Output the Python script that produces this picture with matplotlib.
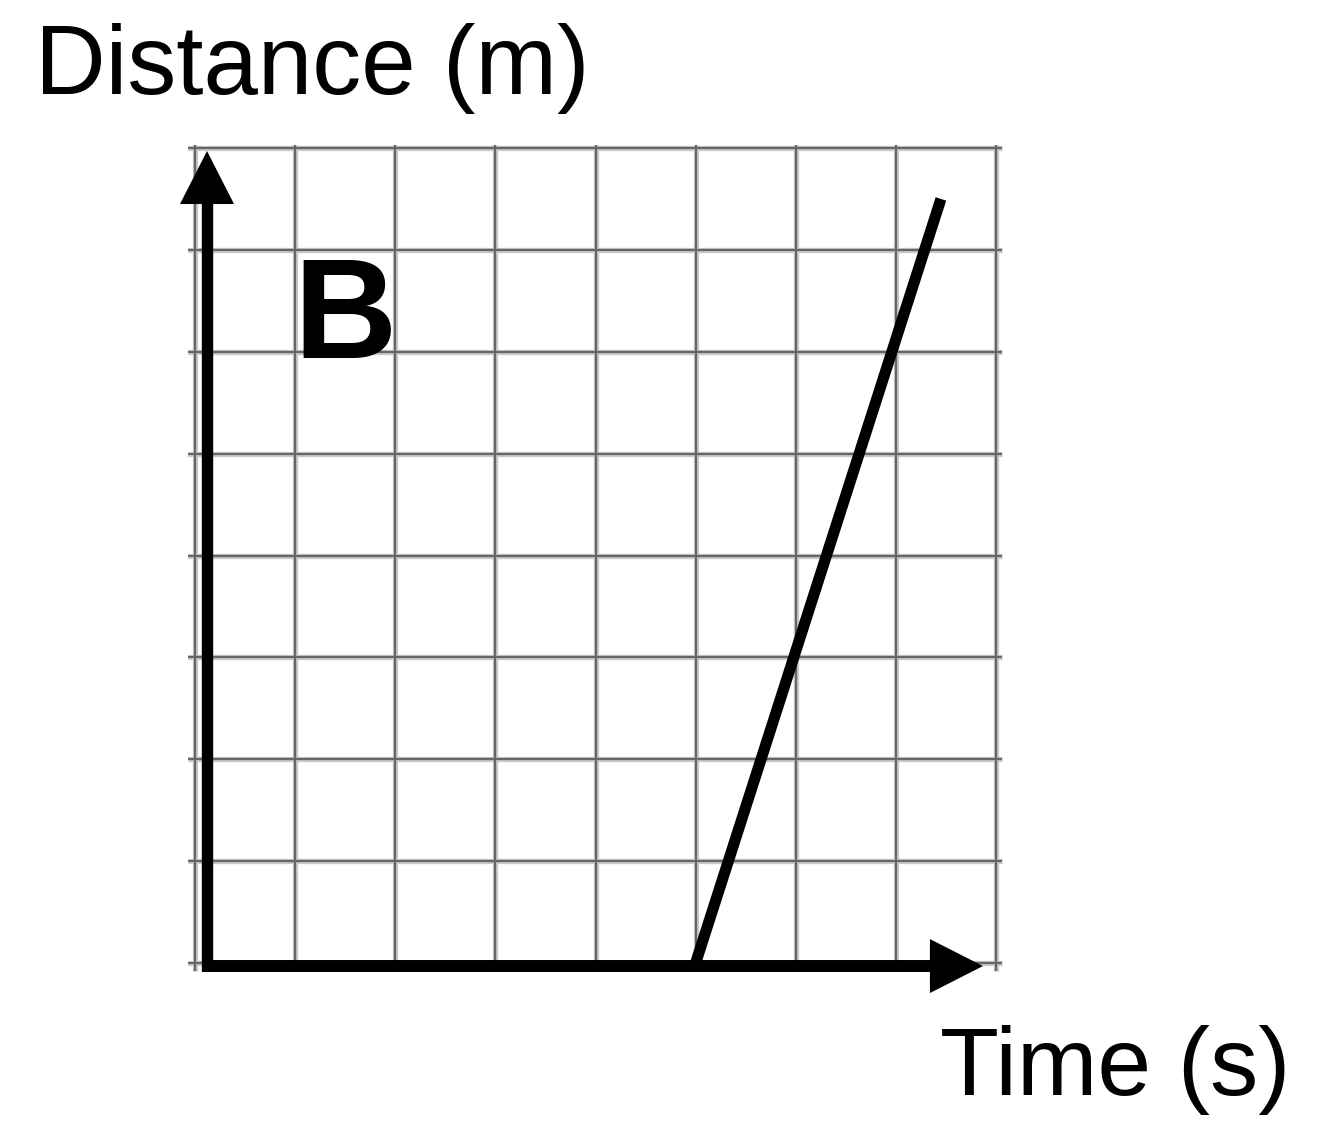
import matplotlib
matplotlib.use("Agg")
import matplotlib.pyplot as plt
from matplotlib.patches import Polygon

# Data
grid_x = [0, 1, 2, 3, 4, 5, 6, 7, 8]
grid_y = [0, 1, 2, 3, 4, 5, 6, 7, 8]
line_t = [5.0, 7.45]
line_d = [0.0, 7.5]
y_label = "Distance (m)"
x_label = "Time (s)"
panel_label = "B"

W, H = 1318, 1122
fig = plt.figure(figsize=(W / 100, H / 100), dpi=100)
fig.patch.set_facecolor("white")

L, R, T, B = 195, 996, 148, 963
ax = fig.add_axes([L / W, (H - B) / H, (R - L) / W, (B - T) / H])
ax.set_xlim(0, 8)
ax.set_ylim(0, 8)
ax.axis("off")

# grid (soft blurred look)
for gx in grid_x:
    ax.plot([gx, gx], [-0.08, 8.03], color="#c8c8c8", lw=3.8, solid_capstyle="butt", clip_on=False, zorder=1)
    ax.plot([gx, gx], [-0.08, 8.03], color="#666666", lw=1.6, solid_capstyle="butt", clip_on=False, zorder=1.1)
for gy in grid_y:
    ax.plot([-0.07, 8.06], [gy, gy], color="#c8c8c8", lw=3.8, solid_capstyle="butt", clip_on=False, zorder=1)
    ax.plot([-0.07, 8.06], [gy, gy], color="#666666", lw=1.6, solid_capstyle="butt", clip_on=False, zorder=1.1)

# axes arrows
ax0x, ax0y = 0.12, -0.03
ax.plot([ax0x, ax0x], [ax0y - 0.05, 7.46], color="black", lw=8.2, solid_capstyle="butt", clip_on=False, zorder=3)
ax.plot([ax0x - 0.05, 7.35], [ax0y, ax0y], color="black", lw=8.6, solid_capstyle="butt", clip_on=False, zorder=3)
ax.add_patch(Polygon([[ax0x - 0.27, 7.45], [ax0x + 0.27, 7.45], [ax0x, 7.97]], closed=True,
                     facecolor="black", edgecolor="none", clip_on=False, zorder=3))
ax.add_patch(Polygon([[7.34, ax0y - 0.265], [7.34, ax0y + 0.265], [7.87, ax0y]], closed=True,
                     facecolor="black", edgecolor="none", clip_on=False, zorder=3))

# data line
ax.plot(line_t, line_d, color="black", lw=8.0, solid_capstyle="butt", clip_on=False, zorder=4)

# texts
font = "Liberation Sans"
fig.text(35 / W, 1 - 94 / H, y_label, fontsize=70.5, family=font, ha="left", va="baseline")
fig.text(940 / W, 1 - 1095 / H, x_label, fontsize=69.5, family=font, ha="left", va="baseline")
fig.text(293 / W, 1 - 358 / H, panel_label, fontsize=103, family=font, fontweight="bold", ha="left", va="baseline")

fig.savefig("out.png", dpi=100, facecolor="white")
